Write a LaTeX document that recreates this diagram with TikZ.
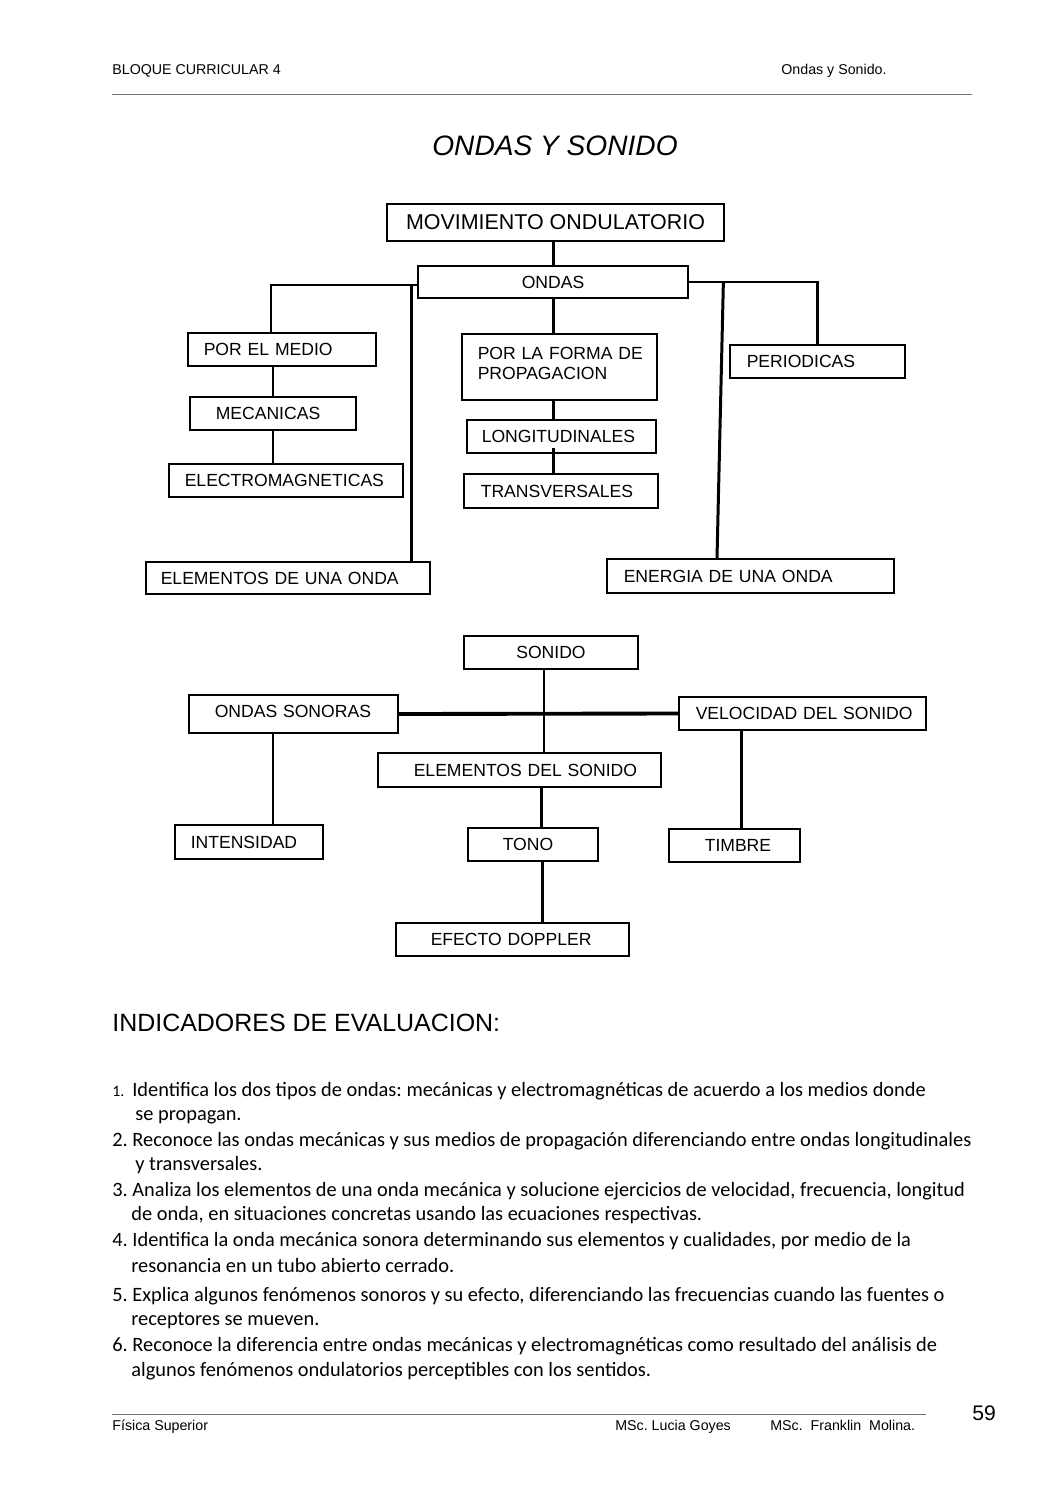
\documentclass[tikz,border=0pt]{standalone}
\usepackage{fontspec}
\setmainfont{Liberation Sans}
\newfontfamily\calfont{Carlito}
\usepackage{tikz}
\usetikzlibrary{positioning,calc}
\newlength\pxu
\setlength\pxu{0.2mm}
\frenchspacing

\begin{document}
\begin{tikzpicture}[x=0.2mm, y=-0.2mm,
    box/.style n args={3}{draw, line width=1pt, font=\fontsize{10}{11.4}\selectfont,
      inner xsep=1pt, inner ysep=0pt, minimum height=#2*0.2mm,
      text width=#1*0.2mm-2pt,
      execute at begin node={\raggedright\leftskip=#3\pxu\relax}},
    cbox/.style 2 args={draw, line width=1pt, font=\fontsize{10}{11.4}\selectfont,
      inner sep=0pt, minimum width=#1*0.2mm, minimum height=#2*0.2mm},
    conn/.style={line width=1.7pt},
    thinconn/.style={line width=0.9pt},
    thickconn/.style={line width=2.2pt},
    rulel/.style={line width=0.5pt, black!55},
    hdr/.style={font=\fontsize{8.1}{9.6}\selectfont, inner sep=0pt, anchor=base west},
    ind/.style={font=\calfont\fontsize{11.6}{13}\selectfont, inner sep=0pt, anchor=base west}]

    \useasboundingbox (0,0) rectangle (1058,1497);

    % Header
    \node[hdr] (bloque) at (112,74) {BLOQUE CURRICULAR 4};
    \node[hdr] (tema) at (781,74) {Ondas y Sonido.};
    \draw[rulel] (112,94) -- (972,94);

    % Title
    \node[font=\fontsize{16}{19}\selectfont\itshape, anchor=base, inner sep=0pt] (titulo) at (555,155) {ONDAS Y SONIDO};

    % Ondas
    \node[cbox={337}{37}, font=\fontsize{12.2}{14}\selectfont] (mov) at (555.5,222.5) {MOVIMIENTO ONDULATORIO};
    \node[cbox={270}{32}] (ondas) at (553,282) {ONDAS};
    \node[box={188}{33}{14}] (medio) at (282,349.5) {POR EL MEDIO};
    \node[box={166}{33}{24}] (mec) at (273,413.5) {MECANICAS};
    \node[box={234}{33}{14}] (elec) at (286,480.5) {ELECTROMAGNETICAS};
    \node[box={284}{32}{13}] (elemonda) at (288,578) {ELEMENTOS DE UNA ONDA};
    \node[box={195}{66}{14}] (forma) at (559.5,367) {POR LA FORMA DE\\PROPAGACION\rule[-8\pxu]{0pt}{0pt}};
    \node[box={189}{33}{13}] (long) at (561.5,436.5) {LONGITUDINALES};
    \node[box={194}{34}{15}] (trans) at (561,491) {TRANSVERSALES};
    \node[box={175}{33}{15}] (period) at (817.5,361.5) {PERIODICAS};
    \node[box={287}{34}{15}] (energia) at (750.5,576) {ENERGIA DE UNA ONDA};

    \draw[conn] (ondas.north) -- (ondas.north |- mov.south);
    \draw[conn] ([yshift=-0.6mm]ondas.west) -| ([xshift=-2.2mm]medio.north);
    \draw[conn] ([xshift=24.6mm]elemonda.north) |- ([yshift=-0.6mm]ondas.west);
    \draw[conn] (mec.north) -- (mec.north |- medio.south);
    \draw[conn] (mec.south) -- (mec.south |- elec.north);
    \draw[conn] (ondas.east) -| (period.north);
    \draw[conn] ([xshift=-6.7mm]energia.north) -- ([xshift=6.9mm]ondas.east);
    \draw[conn] (ondas.south) -- (ondas.south |- forma.north);
    \draw[conn] (forma.south -| ondas.south) -- (long.north -| ondas.south);
    \draw[conn] ($(long.south -| ondas.south)+(0,-6)$) -- (trans.north -| ondas.south);

    % Sonido
    \node[cbox={174}{33}] (sonido) at (551,652.5) {SONIDO};
    \node[box={209}{38}{24}] (osonoras) at (293.5,714) {ONDAS SONORAS\rule[-6\pxu]{0pt}{0pt}};
    \node[box={247}{33}{15}] (veloc) at (802.5,713.5) {VELOCIDAD DEL SONIDO};
    \node[box={283}{34}{34}] (elsonido) at (519.5,770) {ELEMENTOS DEL SONIDO};
    \node[box={148}{34}{14}] (intens) at (249,842) {INTENSIDAD};
    \node[box={130}{33}{33}] (tono) at (533,844.5) {TONO};
    \node[box={131}{33}{34}] (timbre) at (734.5,845.5) {TIMBRE};
    \node[box={233}{33}{33}] (doppler) at (512.5,939.5) {EFECTO DOPPLER};

    \draw[thinconn] ($(sonido.south)+(-7,0)$) -- ($(sonido.south |- elsonido.north)+(-7,0)$);
    \draw[thickconn] (osonoras.east) -- (veloc.west);
    \draw[conn] ($(osonoras.south)+(-20.5,0)$) -- ($(osonoras.south |- intens.north)+(-20.5,0)$);
    \draw[conn] ($(tono.north)+(8,0)$) -- ($(tono.north |- elsonido.south)+(8,0)$);
    \draw[conn] ($(tono.south)+(9,0)$) -- ($(tono.south |- doppler.north)+(9,0)$);
    \draw[conn] ($(timbre.north)+(7,0)$) -- ($(timbre.north |- veloc.south)+(7,0)$);

    % Indicadores
    \node[font=\fontsize{14.2}{17}\selectfont, anchor=base west, inner sep=0pt] (indic) at (112,1031) {INDICADORES DE EVALUACION:};
    \node[ind] (i1a) at (112,1096) {{\fontsize{9}{9}\selectfont 1.}\hspace{4.5pt}Identifica los dos tipos de ondas: mecánicas y electromagnéticas de acuerdo a los medios donde};
    \node[ind] (i1b) at (135,1120) {se propagan.};
    \node[ind] (i2a) at (112,1146) {2. Reconoce las ondas mecánicas y sus medios de propagación diferenciando entre ondas longitudinales};
    \node[ind] (i2b) at (135,1170) {y transversales.};
    \node[ind] (i3a) at (112,1196) {3. Analiza los elementos de una onda mecánica y solucione ejercicios de velocidad, frecuencia, longitud};
    \node[ind] (i3b) at (131,1220) {de onda, en situaciones concretas usando las ecuaciones respectivas.};
    \node[ind] (i4a) at (112,1246) {4. Identifica la onda mecánica sonora determinando sus elementos y cualidades, por medio de la};
    \node[ind] (i4b) at (131,1272) {resonancia en un tubo abierto cerrado.};
    \node[ind] (i5a) at (112,1301) {5. Explica algunos fenómenos sonoros y su efecto, diferenciando las frecuencias cuando las fuentes o};
    \node[ind] (i5b) at (131,1325) {receptores se mueven.};
    \node[ind] (i6a) at (112,1351) {6. Reconoce la diferencia entre ondas mecánicas y electromagnéticas como resultado del análisis de};
    \node[ind] (i6b) at (131,1376) {algunos fenómenos ondulatorios perceptibles con los sentidos.};

    % Footer
    \draw[rulel] (112,1414) -- (926,1414);
    \node[hdr] (curso) at (112,1430) {Física Superior};
    \node[hdr] (autor1) at (615,1430) {MSc. Lucia Goyes};
    \node[hdr] (autor2) at (770,1430) {MSc.\ \ Franklin\ \ Molina.};
    \node[font=\fontsize{12}{14}\selectfont, anchor=base west, inner sep=0pt] (pagina) at (972,1420) {59};
\end{tikzpicture}
\end{document}
